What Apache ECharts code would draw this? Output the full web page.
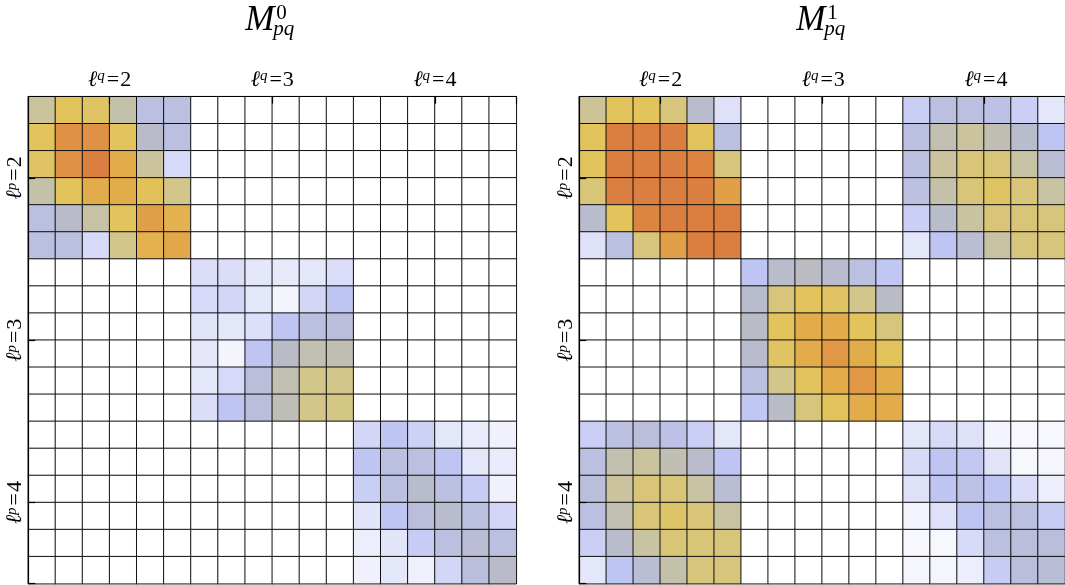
<!DOCTYPE html>
<html>
<head>
<meta charset="utf-8">
<script src="https://cdn.jsdelivr.net/npm/echarts@6/dist/echarts.min.js"></script>
<style>
html,body{margin:0;padding:0;background:#ffffff;}
#chart{width:1065px;height:585px;}
</style>
</head>
<body>
<div id="chart"></div>
<script>
// ---- data ----
const ellValues = ['2', '3', '4'];
const blockSize = 6;
const panelTitles = ['0', '1'];

// M^0 blocks (rows ell^p, cols ell^q)
const m0_22 = [
  [7.5, 9, 8.8, 7, 5, 5],
  [9, 11, 11, 9, 6, 5],
  [8.8, 11, 12, 10, 7.4, 2.8],
  [7, 9, 10, 10, 9.1, 8],
  [5, 6, 7.2, 9, 10.5, 9.8],
  [5, 5, 2.8, 8, 9.8, 10.2]
];
const m0_33 = [
  [2.5, 2.5, 2, 1.8, 2, 2.5],
  [2.8, 3, 2, 1, 3, 4],
  [2.2, 2, 2.4, 4, 5, 5.2],
  [2, 1, 4, 6, 6.8, 6.7],
  [2, 2.8, 5.2, 6.8, 8, 8],
  [2.5, 4, 5.2, 6.6, 8, 8.1]
];
const m0_44 = [
  [3, 4, 3.3, 2, 1.6, 1.2],
  [4, 5, 5, 4, 2, 1.7],
  [3.5, 5, 5.8, 5, 3.6, 1.2],
  [2.1, 4, 5.2, 5.8, 5, 3],
  [1.4, 2.1, 3.6, 5, 5.5, 5],
  [1.2, 2, 1.3, 3, 5.2, 6]
];

// M^1 blocks
const m1_22 = [
  [7.6, 9, 9, 8.3, 5.8, 2.3],
  [9, 12, 12, 12, 9, 5],
  [9, 12, 12, 12, 11.8, 8.3],
  [8.4, 12, 12, 12, 12, 10.5],
  [5.8, 9, 11.7, 12, 12, 12],
  [2.3, 5, 8.3, 10.5, 12, 12]
];
const m1_24 = [
  [3.5, 5, 5, 4.6, 3.4, 2],
  [5, 6.8, 7.4, 6.7, 5.8, 4],
  [5, 7.4, 8.4, 8.4, 7.2, 5.5],
  [5, 7, 8.4, 8.8, 8.4, 7.2],
  [3.4, 5.8, 7.3, 8.4, 8.4, 8.3],
  [2, 4, 5.5, 7.2, 8.3, 8.3]
];
const m1_33 = [
  [4, 5.8, 6.2, 5.8, 5, 3.9],
  [5.8, 8.3, 9, 8.8, 8, 6.1],
  [6.1, 9, 10, 10, 9, 8.3],
  [5.8, 8.8, 10, 10.8, 10, 9],
  [5, 8, 9, 10, 10.8, 10],
  [3.9, 6.1, 8.3, 9, 10, 10]
];
const m1_42 = [
  [3.4, 5, 5.2, 4.6, 3.4, 2],
  [5, 6.8, 7.4, 6.7, 5.8, 4],
  [5.2, 7.4, 8.4, 8.4, 7.2, 5.5],
  [5, 6.8, 8.4, 8.7, 8.4, 7.2],
  [3.4, 5.8, 7.3, 8.4, 8.4, 8.3],
  [2, 4, 5.5, 7, 8.3, 8.3]
];
const m1_44 = [
  [2, 2.7, 2.3, 1, 0.7, 0.7],
  [2.7, 4, 3.8, 2.2, 0.7, 0.9],
  [2.3, 4, 4.7, 4, 2.6, 1.4],
  [1, 2.3, 4, 5, 5, 3.6],
  [0.7, 0.7, 2.7, 5, 5.2, 5.2],
  [0.8, 0.8, 1.4, 3.6, 5.2, 5.4]
];

// block placement: [rowBlock, colBlock, values]
const m0_blocks = [[0, 0, m0_22], [1, 1, m0_33], [2, 2, m0_44]];
const m1_blocks = [[0, 0, m1_22], [0, 2, m1_24], [1, 1, m1_33], [2, 0, m1_42], [2, 2, m1_44]];

const colorStops = ['#ffffff', '#f3f4fd', '#e4e6fa', '#d3d6f7', '#bfc5f2', '#bbbfe0',
  '#b9bbc8', '#c4c1ab', '#d2c68a', '#e3c35b', '#e3ac4a', '#df9245', '#db7f41'];

// ---- build ----
const N = ellValues.length * blockSize;
const cats = [];
for (let i = 0; i < N; i++) cats.push(String(i));

function buildData(blocks) {
  const M = [];
  for (let i = 0; i < N; i++) { M.push(new Array(N).fill(0)); }
  blocks.forEach(([rb, cb, vals]) => {
    for (let i = 0; i < blockSize; i++)
      for (let j = 0; j < blockSize; j++)
        M[rb * blockSize + i][cb * blockSize + j] = vals[i][j];
  });
  const d = [];
  for (let i = 0; i < N; i++)
    for (let j = 0; j < N; j++) d.push([j, i, M[i][j]]);
  return d;
}

const TOP = 96.7, W = 488, H = 487;
const LEFTS = [28.3, 579.3];
const serif = "'Liberation Serif', 'DejaVu Serif', serif";
const tickIdx = [3, 9, 15];

const grids = [], xAxes = [], yAxes = [], series = [], graphics = [];
const allData = [buildData(m0_blocks), buildData(m1_blocks)];

const richStyle = {
  l: { font: 'italic 22px ' + serif, fill: '#000', verticalAlign: 'bottom' },
  s: { font: 'italic 15px ' + serif, fill: '#000', verticalAlign: 'top', padding: [0, 1, 0, 0] },
  e: { font: '22px ' + serif, fill: '#000', verticalAlign: 'bottom', padding: [0, 1, 0, 1] },
  n: { font: '22px ' + serif, fill: '#000', verticalAlign: 'bottom' }
};

LEFTS.forEach((L, k) => {
  grids.push({ left: L, top: TOP, width: W, height: H, containLabel: false });
  const axisCommon = {
    type: 'category', data: cats, gridIndex: k, z: 5,
    axisLabel: { show: false },
    axisLine: { show: true, lineStyle: { color: '#000', width: 1.2 } },
    axisTick: { show: true, inside: true, length: 7, interval: (i) => tickIdx.indexOf(i) >= 0, lineStyle: { color: '#000', width: 1.2 } },
    splitLine: { show: false }
  };
  xAxes.push(Object.assign({ position: 'top' }, axisCommon));
  yAxes.push(Object.assign({ inverse: true }, axisCommon));
  series.push({
    type: 'heatmap', xAxisIndex: k, yAxisIndex: k, data: allData[k],
    itemStyle: { borderColor: '#111', borderWidth: 1 },
    emphasis: { disabled: true }, progressive: 0, silent: true
  });

  const cx = L + W / 2;
  // title M^k_pq
  graphics.push({ type: 'text', style: { text: 'M', x: cx + 2, y: 21, font: 'italic 35px ' + serif, fill: '#000', align: 'right', verticalAlign: 'middle' } });
  graphics.push({ type: 'text', style: { text: panelTitles[k], x: cx + 4, y: 13, font: '21px ' + serif, fill: '#000', align: 'left', verticalAlign: 'middle' } });
  graphics.push({ type: 'text', style: { text: 'pq', x: cx + 1, y: 29, font: 'italic 21px ' + serif, fill: '#000', align: 'left', verticalAlign: 'middle' } });

  const cw = W / N, ch = H / N;
  ellValues.forEach((v, b) => {
    graphics.push({ type: 'text', style: { text: '{l|ℓ}{s|q}{e|=}{n|' + v + '}', rich: richStyle, x: L + (3 + 6 * b) * cw, y: 80, align: 'center', verticalAlign: 'middle' } });
    graphics.push({ type: 'text', rotation: Math.PI / 2, x: L - 13, y: TOP + (3 + 6 * b) * ch,
      style: { text: '{l|ℓ}{s|p}{e|=}{n|' + v + '}', rich: richStyle, x: 0, y: 0, align: 'center', verticalAlign: 'middle' } });
  });
});

const chart = echarts.init(document.getElementById('chart'), null, { renderer: 'canvas' });
chart.setOption({
  animation: false,
  backgroundColor: '#ffffff',
  grid: grids, xAxis: xAxes, yAxis: yAxes,
  visualMap: { type: 'continuous', min: 0, max: 12, show: false, seriesIndex: [0, 1], inRange: { color: colorStops } },
  series: series,
  graphic: graphics
});
</script>
</body>
</html>
